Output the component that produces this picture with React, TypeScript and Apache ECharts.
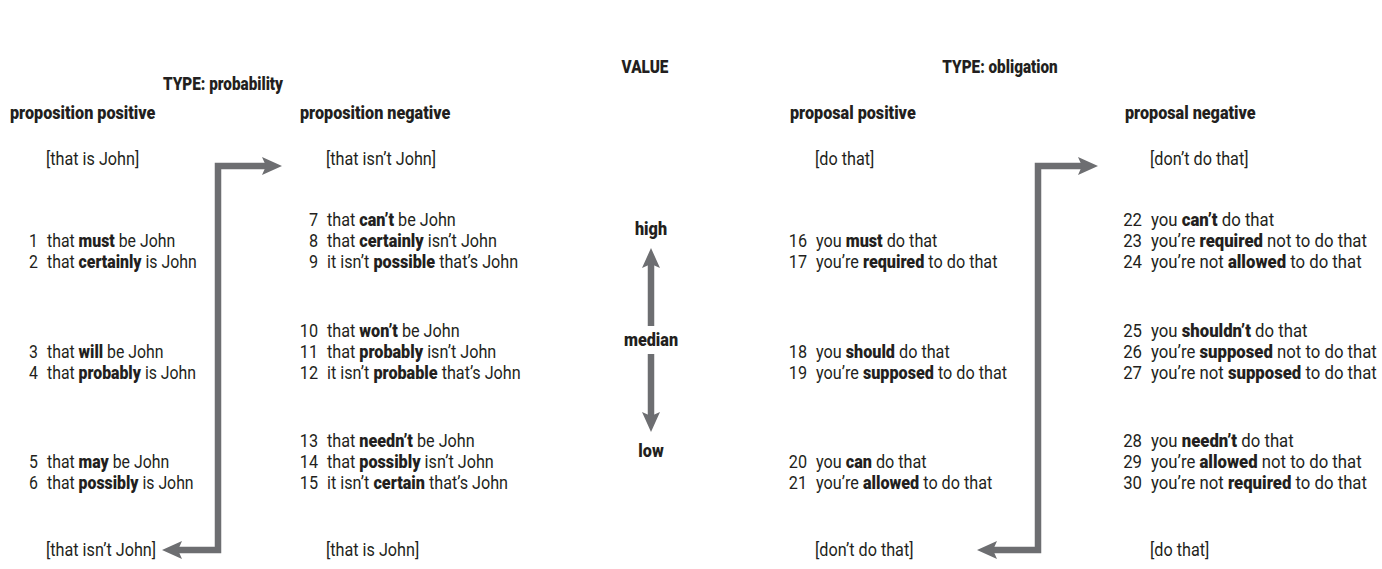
import React, { useEffect, useRef } from "react";
import * as echarts from "echarts";

// ---------- data ----------
const headers = ["TYPE: probability", "VALUE", "TYPE: obligation"];
const columnTitles = ["proposition positive", "proposition negative", "proposal positive", "proposal negative"];
const topLabels = ["[that is John]", "[that isn\u2019t John]", "[do that]", "[don\u2019t do that]"];
const bottomLabels = ["[that isn\u2019t John]", "[that is John]", "[don\u2019t do that]", "[do that]"];
const valueLabels = ["high", "median", "low"];

const propositionPositive = [
  [["1", "that {b|must} be John"], ["2", "that {b|certainly} is John"]],
  [["3", "that {b|will} be John"], ["4", "that {b|probably} is John"]],
  [["5", "that {b|may} be John"], ["6", "that {b|possibly} is John"]],
];
const propositionNegative = [
  [["7", "that {b|can\u2019t} be John"], ["8", "that {b|certainly} isn\u2019t John"], ["9", "it isn\u2019t {b|possible} that\u2019s John"]],
  [["10", "that {b|won\u2019t} be John"], ["11", "that {b|probably} isn\u2019t John"], ["12", "it isn\u2019t {b|probable} that\u2019s John"]],
  [["13", "that {b|needn\u2019t} be John"], ["14", "that {b|possibly} isn\u2019t John"], ["15", "it isn\u2019t {b|certain} that\u2019s John"]],
];
const proposalPositive = [
  [["16", "you {b|must} do that"], ["17", "you\u2019re {b|required} to do that"]],
  [["18", "you {b|should} do that"], ["19", "you\u2019re {b|supposed} to do that"]],
  [["20", "you {b|can} do that"], ["21", "you\u2019re {b|allowed} to do that"]],
];
const proposalNegative = [
  [["22", "you {b|can\u2019t} do that"], ["23", "you\u2019re {b|required} not to do that"], ["24", "you\u2019re not {b|allowed} to do that"]],
  [["25", "you {b|shouldn\u2019t} do that"], ["26", "you\u2019re {b|supposed} not to do that"], ["27", "you\u2019re not {b|supposed} to do that"]],
  [["28", "you {b|needn\u2019t} do that"], ["29", "you\u2019re {b|allowed} not to do that"], ["30", "you\u2019re not {b|required} to do that"]],
];

// ---------- layout / style ----------
const FONT = "Roboto, 'Liberation Sans', sans-serif";
const INK = "#231f20";
const GREY = "#6d6e71";
const FS = 18;
const SX = 0.9; // horizontal condensing to mimic a condensed typeface
const HEAD_SX = 0.85;
const colScale = [0.88, 0.9, 0.9, 0.93];
const BOLD = 900;

const colX = [10, 300, 790, 1125]; // title left
const numRight = [38, 318, 807, 1142];
const textLeft = [47, 327, 816, 1151];
const bracketX = [46, 326, 815, 1150];
const groupTop = [220, 331, 441];
const lineH = 21;

function txt(x: number, y: number, text: string, opts: any = {}) {
  return {
    type: "text",
    x,
    y,
    scaleX: opts.sx || SX,
    silent: true,
    style: {
      text,
      fill: INK,
      fontFamily: FONT,
      fontSize: FS,
      fontWeight: opts.bold ? BOLD : "normal",
      textAlign: opts.align || "left",
      textVerticalAlign: "middle",
      rich: {
        b: { fontFamily: FONT, fontSize: FS, fontWeight: BOLD, fill: INK },
      },
    },
  };
}

function shaft(points: number[][]) {
  return {
    type: "polyline",
    silent: true,
    shape: { points },
    style: { stroke: GREY, lineWidth: 6.5, fill: null, lineJoin: "miter" },
  };
}

function head(tip: number[], dir: string) {
  const L = 20, W = 9, N = 4;
  const [x, y] = tip;
  let pts: number[][];
  if (dir === "right") pts = [[x, y], [x - L, y - W], [x - L + N, y], [x - L, y + W]];
  else if (dir === "left") pts = [[x, y], [x + L, y - W], [x + L - N, y], [x + L, y + W]];
  else if (dir === "up") pts = [[x, y], [x - W, y + L], [x, y + L - N], [x + W, y + L]];
  else pts = [[x, y], [x - W, y - L], [x, y - L + N], [x + W, y - L]];
  return { type: "polygon", silent: true, shape: { points: pts }, style: { fill: GREY } };
}

export default function App() {
  const ref = useRef<HTMLDivElement>(null);
  useEffect(() => {
    document.body.style.margin = "0";
    const chart = echarts.init(ref.current!, null, { renderer: "svg" });
    const els: any[] = [];

    els.push(txt(223, 84, headers[0], { bold: true, align: "center", sx: HEAD_SX }));
    els.push(txt(645, 67, headers[1], { bold: true, align: "center", sx: HEAD_SX }));
    els.push(txt(1000, 67, headers[2], { bold: true, align: "center", sx: HEAD_SX }));

    columnTitles.forEach((t, i) => els.push(txt(colX[i], 113, t, { bold: true })));
    topLabels.forEach((t, i) => els.push(txt(bracketX[i], 159, t)));
    bottomLabels.forEach((t, i) => els.push(txt(bracketX[i], 550, t)));

    const cols = [propositionPositive, propositionNegative, proposalPositive, proposalNegative];
    cols.forEach((groups, ci) => {
      groups.forEach((g, gi) => {
        const offset = g.length === 2 ? 1 : 0;
        g.forEach((row, ri) => {
          const y = groupTop[gi] + (ri + offset) * lineH;
          els.push(txt(numRight[ci], y, row[0], { align: "right", sx: colScale[ci] }));
          els.push(txt(textLeft[ci], y, row[1], { sx: colScale[ci] }));
        });
      });
    });

    // value scale
    els.push(txt(651, 229, valueLabels[0], { bold: true, align: "center" }));
    els.push(txt(651, 340, valueLabels[1], { bold: true, align: "center" }));
    els.push(txt(651, 451, valueLabels[2], { bold: true, align: "center" }));
    els.push(shaft([[651, 326], [651, 264]]));
    els.push(head([651, 248], "up"));
    els.push(shaft([[651, 354], [651, 416]]));
    els.push(head([651, 432], "down"));

    // left bent arrow
    els.push(shaft([[268, 166], [218, 166], [218, 550], [176, 550]]));
    els.push(head([282, 166], "right"));
    els.push(head([162, 550], "left"));

    // right bent arrow
    els.push(shaft([[1084, 166], [1038, 166], [1038, 550], [992, 550]]));
    els.push(head([1098, 166], "right"));
    els.push(head([977, 550], "left"));

    chart.setOption({ animation: false, graphic: { elements: els } });
    return () => chart.dispose();
  }, []);
  return <div ref={ref} style={{ width: 1382, height: 569 }} />;
}
